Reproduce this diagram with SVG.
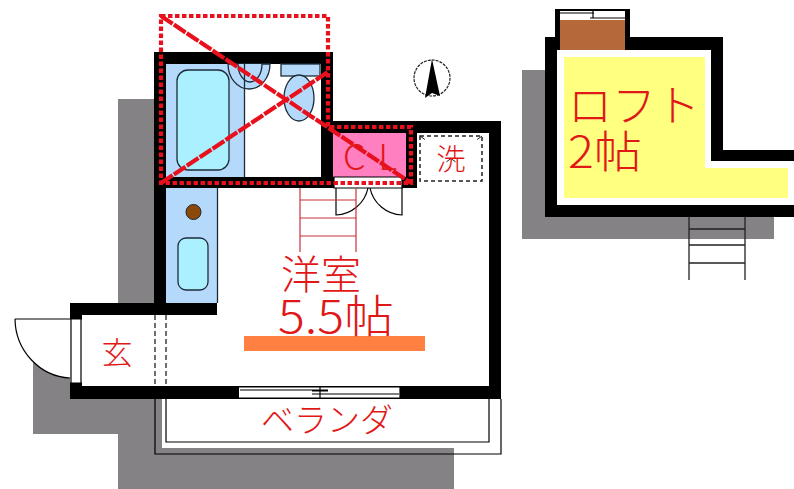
<svg xmlns="http://www.w3.org/2000/svg" width="794" height="489" viewBox="0 0 794 489">
<style>
.shadow{fill:#848284}
.wall{fill:#000}
.thin{fill:none;stroke:#000;stroke-width:1.2}
.dk{stroke:#1c2b3a;stroke-width:1.3}
.blue{fill:#b5d9fb}
.cyan{fill:#aaf0ff}
.red{fill:none;stroke:#e8101c;stroke-width:4.2}
.stair{fill:none;stroke:#c8343a;stroke-width:1.2}
text{font-family:"Noto Sans CJK JP","Noto Sans",sans-serif;fill:#e01818;font-weight:300}
</style>
<rect width="794" height="489" fill="#fff"/>
<g id="shadows">
<path class="shadow" d="M118 99H160V398H162V448H454V489H118V434H33V340H118Z"/>
<path class="shadow" d="M522 70H550V217H774V239H522Z"/>
</g>
<g id="entrance-door">
<path d="M15 319H70V378A59 59 0 0 1 15 319Z" fill="#fff"/>
<path class="thin" d="M15 319H70M15 319A58 60 0 0 0 70 378" stroke="#333"/>
</g>
<g id="veranda">
<path d="M155 399H501V454H155Z" fill="#fff"/>
<rect x="155" y="448" width="299" height="6" class="shadow"/>
<rect x="155" y="399" width="7" height="55" class="shadow"/>
<path class="thin" d="M155 399V454H501V399M166 399V442H489V399" stroke="#222"/>
</g>
<path id="floor" d="M166 64H321V133H489V386H82V315H166Z" fill="#fff"/>
<g id="walls">
<path class="wall" fill-rule="evenodd" d="M154 52H333V121H501V399H70V303H154ZM166 64V177H321V64ZM333 133V177H406V133ZM417 133H489V386H82V315H217V303H166V188H417Z"/>
<rect x="70" y="319" width="12" height="64" fill="#fff"/>
<path class="thin" d="M71 319V383M81 319V383M70 319H82M70 383H82"/>
<rect x="239" y="387" width="161" height="11" fill="#fff"/>
<path class="thin" d="M239 387H400V398H239M240 390H328M312 394H399M320 386V398M312 391H328"/>
</g>
<g id="bath">
<rect x="166" y="64" width="78" height="113" class="blue"/>
<path class="blue dk" d="M228 64A21 25 0 0 0 270 64Z"/>
<path class="blue dk" d="M238 64A12 18 0 0 0 262 64"/>
<rect x="177" y="70" width="52" height="100" rx="11" class="cyan dk"/>
<path class="dk" d="M244.500 64V177" fill="none"/>
<rect x="281" y="64" width="39" height="12" class="blue dk"/>
<ellipse cx="299" cy="98" rx="15" ry="23" class="blue dk"/>
</g>
<g id="kitchen">
<rect x="166" y="188" width="52" height="115" class="blue"/>
<path class="dk" d="M217.500 188V303" fill="none"/>
<circle cx="193.500" cy="212" r="7.500" fill="#8b4a0a" stroke="#222"/>
<rect x="178" y="238" width="30" height="52" rx="8" class="cyan dk"/>
</g>
<g id="closet">
<rect x="333" y="133" width="73" height="44" fill="#ff7fc0"/>
<rect x="334" y="177" width="68" height="11" fill="#fff"/>
<path class="thin" d="M334 177H402V188H334Z" stroke="#222"/>
</g>
<g id="closet-doors">
<path class="thin" d="M336 188V215A34 34 0 0 0 368 188M402 188V215A34 34 0 0 1 370 188" stroke="#222"/>
</g>
<g id="stairs">
<path class="stair" d="M300 188V252M356 188V252M300 200H356M300 218H356M300 236H356"/>
</g>
<g id="entry-step">
<path d="M155 315V386M166 315V386" fill="none" stroke="#222" stroke-width="1.300" stroke-dasharray="5 3"/>
</g>
<g id="red-cross">
<path class="red" stroke-dasharray="4.500 2.500" d="M161 16H328V127H411V183H161Z"/>
<path class="red" stroke-dasharray="14 1.500" d="M161 16L411 183M161 183L328 72"/>
</g>
<g id="washer">
<rect x="420" y="136" width="62" height="45" fill="#fff" stroke="#222" stroke-width="1.500" stroke-dasharray="4 3"/>
<path d="M420 136L482 181M482 136L420 181" fill="none" stroke="#222" stroke-width="1" stroke-dasharray="6 32"/>
<text x="451" y="170" font-size="29" text-anchor="middle">洗</text>
</g>
<g id="compass">
<circle cx="432" cy="78" r="18" fill="#fff" stroke="#222" stroke-width="1.200" stroke-dasharray="3 1"/>
<path d="M432 59L440 96L432 93L425 98Z" fill="#000"/>
</g>
<rect id="wardrobe-rail" x="244" y="336" width="181" height="15" fill="#ff8040"/>
<g id="labels">
<text x="343" y="170" font-size="36" textLength="54" lengthAdjust="spacing">CL</text>
<text x="321" y="289" font-size="40" text-anchor="middle">洋室</text>
<text x="278" y="333" font-size="45" textLength="116" lengthAdjust="spacingAndGlyphs">5.5帖</text>
<text x="117" y="364" font-size="31" text-anchor="middle">玄</text>
<text x="327" y="432" font-size="33" text-anchor="middle">ベランダ</text>
</g>
<g id="loft">
<path class="wall" fill-rule="evenodd" d="M555 9H630V37H723V150H794V217H545V37H555ZM557 50V205H794V161H711V50Z"/>
<path d="M557 50H711V161H794V205H557Z" fill="#fff"/>
<path d="M564 57H705V168H788V198H564Z" fill="#ffff80"/>
<rect x="560" y="20" width="65" height="30" fill="#b5693a"/>
<rect x="560" y="11" width="65" height="9" fill="#fff"/>
<path class="thin" d="M560 13H594M590 18H625M593 11V18"/>
<path d="M689 217V280M745 217V280M689 229H745M689 245H745M689 263H745" fill="none" stroke="#222" stroke-width="1.300"/>
<text x="568" y="122" font-size="44">ロフト</text>
<text x="568" y="168" font-size="44" textLength="74" lengthAdjust="spacingAndGlyphs">2帖</text>
</g>
</svg>
